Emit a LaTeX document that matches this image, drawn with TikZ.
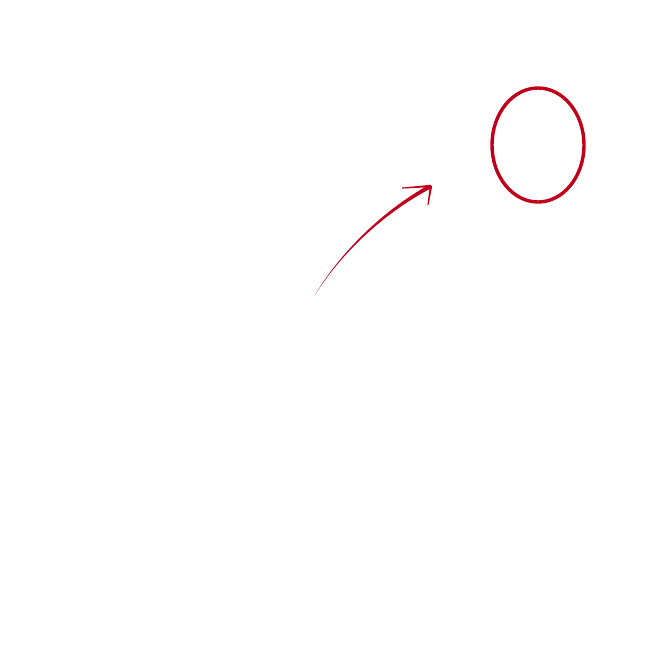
\documentclass[tikz,border=0pt]{standalone}
\usetikzlibrary{shapes.geometric}
\definecolor{mred}{RGB}{192,0,26}
\begin{document}
\begin{tikzpicture}[x=1pt,y=-1pt,
  ring/.style={draw=mred,line width=3.4pt,ellipse,minimum width=92pt,minimum height=114pt,inner sep=0pt},
  arm/.style={fill=mred}]
\useasboundingbox (0,0) rectangle (650,650);
\node[ring] (e) at (538,145) {};
\coordinate (s) at (315,295);
\coordinate (t) at (431,186);
\coordinate (a1) at (402,188);
\coordinate (a2) at (428,205);
\fill[mred] (s) .. controls (340,255) and (382,214) .. (431.2,188.2) -- (429.4,184.6) .. controls (381,211.5) and (339,254.3) .. (s) -- cycle;
\fill[arm] ([yshift=1.2pt]t) -- ([yshift=0.5pt]a1) -- ([yshift=-0.6pt]a1) -- ([yshift=-1.2pt]t) -- cycle;
\fill[arm] ([xshift=1.2pt]t) -- ([xshift=0.5pt]a2) -- ([xshift=-0.6pt]a2) -- ([xshift=-1.2pt]t) -- cycle;
\end{tikzpicture}
\end{document}
